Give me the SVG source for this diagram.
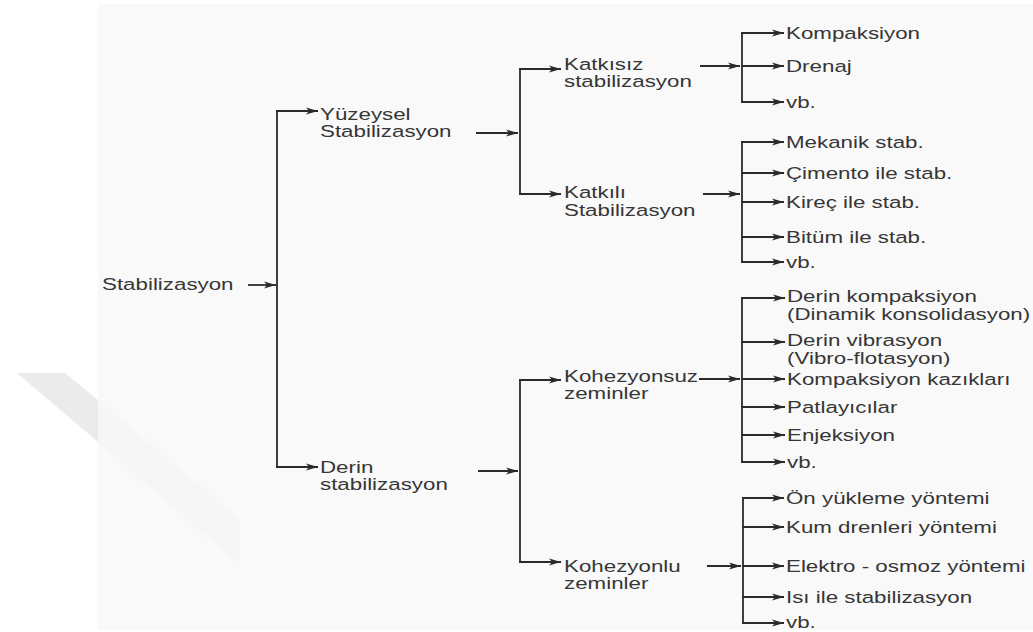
<svg xmlns="http://www.w3.org/2000/svg" width="1033" height="632" viewBox="0 0 1033 632">
  <defs>
    <marker id="ah" markerWidth="12" markerHeight="8" refX="12" refY="4" orient="auto" markerUnits="userSpaceOnUse">
      <path d="M0,0.5 L12,4 L0,7.5 L3,4 Z" fill="#2a2a2a"/>
    </marker>
    <style>
      .t { font-family: "Liberation Sans", Arial, sans-serif; font-size: 16.8px; fill: #363636; }
      .c { fill: none; stroke: #2a2a2a; stroke-width: 1.8; }
      .a { fill: none; stroke: #2a2a2a; stroke-width: 1.8; marker-end: url(#ah); }
    </style>
  </defs>
  <rect x="0" y="0" width="1033" height="632" fill="#ffffff"/>
  <rect x="98" y="4" width="935" height="626" fill="#f9f9f9"/>
  <polygon points="17,373 65,373 98,400 98,442" fill="#ebebeb"/>
  <polygon points="98,400 240,520 240,565 98,442" fill="#f6f6f6"/>

  <g id="connectors">
    <line class="a" x1="248" y1="285" x2="276" y2="285"/>
    <path class="c" d="M277,111 V467"/>
    <line class="a" x1="276" y1="111" x2="318" y2="111"/>
    <line class="a" x1="276" y1="467" x2="318" y2="467"/>

    <line class="a" x1="476" y1="133" x2="518" y2="133"/>
    <path class="c" d="M520,69 V194"/>
    <line class="a" x1="519" y1="69" x2="561" y2="69"/>
    <line class="a" x1="519" y1="194" x2="561" y2="194"/>

    <line class="a" x1="700" y1="66" x2="740" y2="66"/>
    <path class="c" d="M742,33 V102"/>
    <line class="a" x1="741" y1="33" x2="784" y2="33"/>
    <line class="a" x1="741" y1="66" x2="784" y2="66"/>
    <line class="a" x1="741" y1="102" x2="784" y2="102"/>

    <line class="a" x1="703" y1="194" x2="740" y2="194"/>
    <path class="c" d="M742,142 V262"/>
    <line class="a" x1="741" y1="142" x2="784" y2="142"/>
    <line class="a" x1="741" y1="173" x2="784" y2="173"/>
    <line class="a" x1="741" y1="202" x2="784" y2="202"/>
    <line class="a" x1="741" y1="237" x2="784" y2="237"/>
    <line class="a" x1="741" y1="262" x2="784" y2="262"/>

    <line class="a" x1="478" y1="471" x2="518" y2="471"/>
    <path class="c" d="M520,379 V562"/>
    <line class="a" x1="519" y1="380" x2="561" y2="380"/>
    <line class="a" x1="519" y1="562" x2="561" y2="562"/>

    <line class="a" x1="699" y1="379" x2="740" y2="379"/>
    <path class="c" d="M742,298 V462"/>
    <line class="a" x1="741" y1="298" x2="785" y2="298"/>
    <line class="a" x1="741" y1="342" x2="785" y2="342"/>
    <line class="a" x1="741" y1="379" x2="785" y2="379"/>
    <line class="a" x1="741" y1="407" x2="785" y2="407"/>
    <line class="a" x1="741" y1="435" x2="785" y2="435"/>
    <line class="a" x1="741" y1="462" x2="785" y2="462"/>

    <line class="a" x1="707" y1="566" x2="741" y2="566"/>
    <path class="c" d="M743,498 V623"/>
    <line class="a" x1="742" y1="498" x2="784" y2="498"/>
    <line class="a" x1="742" y1="527" x2="784" y2="527"/>
    <line class="a" x1="742" y1="566" x2="784" y2="566"/>
    <line class="a" x1="742" y1="597" x2="784" y2="597"/>
    <line class="a" x1="742" y1="623" x2="784" y2="623"/>
  </g>

  <g id="n-root"><text class="t" transform="translate(102 290) scale(1.33 1)">Stabilizasyon</text></g>
  <g id="n-yuzeysel"><text class="t" transform="translate(320 120) scale(1.33 1)"><tspan x="0" y="0">Yüzeysel</tspan><tspan x="0" y="17">Stabilizasyon</tspan></text></g>
  <g id="n-derin"><text class="t" transform="translate(320 473) scale(1.33 1)"><tspan x="0" y="0">Derin</tspan><tspan x="0" y="17">stabilizasyon</tspan></text></g>
  <g id="n-katkisiz"><text class="t" transform="translate(564 70) scale(1.33 1)"><tspan x="0" y="0">Katkısız</tspan><tspan x="0" y="17">stabilizasyon</tspan></text></g>
  <g id="n-katkili"><text class="t" transform="translate(564 198) scale(1.33 1)"><tspan x="0" y="0">Katkılı</tspan><tspan x="0" y="18">Stabilizasyon</tspan></text></g>
  <g id="n-kohezyonsuz"><text class="t" transform="translate(564 382) scale(1.33 1)"><tspan x="0" y="0">Kohezyonsuz</tspan><tspan x="0" y="17">zeminler</tspan></text></g>
  <g id="n-kohezyonlu"><text class="t" transform="translate(564 572) scale(1.33 1)"><tspan x="0" y="0">Kohezyonlu</tspan><tspan x="0" y="17">zeminler</tspan></text></g>

  <g id="n-kompaksiyon"><text class="t" transform="translate(786 39) scale(1.33 1)">Kompaksiyon</text></g>
  <g id="n-drenaj"><text class="t" transform="translate(786 72) scale(1.33 1)">Drenaj</text></g>
  <g id="n-vb1"><text class="t" transform="translate(786 108) scale(1.33 1)">vb.</text></g>

  <g id="n-mekanik"><text class="t" transform="translate(786 148) scale(1.33 1)">Mekanik stab.</text></g>
  <g id="n-cimento"><text class="t" transform="translate(786 179) scale(1.33 1)">Çimento ile stab.</text></g>
  <g id="n-kirec"><text class="t" transform="translate(786 208) scale(1.33 1)">Kireç ile stab.</text></g>
  <g id="n-bitum"><text class="t" transform="translate(786 243) scale(1.33 1)">Bitüm ile stab.</text></g>
  <g id="n-vb2"><text class="t" transform="translate(786 268) scale(1.33 1)">vb.</text></g>

  <g id="n-derinkomp"><text class="t" transform="translate(787 302) scale(1.33 1)"><tspan x="0" y="0">Derin kompaksiyon</tspan><tspan x="0" y="18">(Dinamik konsolidasyon)</tspan></text></g>
  <g id="n-derinvib"><text class="t" transform="translate(787 346) scale(1.33 1)"><tspan x="0" y="0">Derin vibrasyon</tspan><tspan x="0" y="18">(Vibro-flotasyon)</tspan></text></g>
  <g id="n-kazik"><text class="t" transform="translate(787 385) scale(1.33 1)">Kompaksiyon kazıkları</text></g>
  <g id="n-patlayici"><text class="t" transform="translate(787 413) scale(1.33 1)">Patlayıcılar</text></g>
  <g id="n-enjeksiyon"><text class="t" transform="translate(787 441) scale(1.33 1)">Enjeksiyon</text></g>
  <g id="n-vb3"><text class="t" transform="translate(787 468) scale(1.33 1)">vb.</text></g>

  <g id="n-onyukleme"><text class="t" transform="translate(786 504) scale(1.33 1)">Ön yükleme yöntemi</text></g>
  <g id="n-kum"><text class="t" transform="translate(786 533) scale(1.33 1)">Kum drenleri yöntemi</text></g>
  <g id="n-elektro"><text class="t" transform="translate(786 572) scale(1.33 1)">Elektro - osmoz yöntemi</text></g>
  <g id="n-isi"><text class="t" transform="translate(786 603) scale(1.33 1)">Isı ile stabilizasyon</text></g>
  <g id="n-vb4"><text class="t" transform="translate(786 628) scale(1.33 1)">vb.</text></g>
</svg>
